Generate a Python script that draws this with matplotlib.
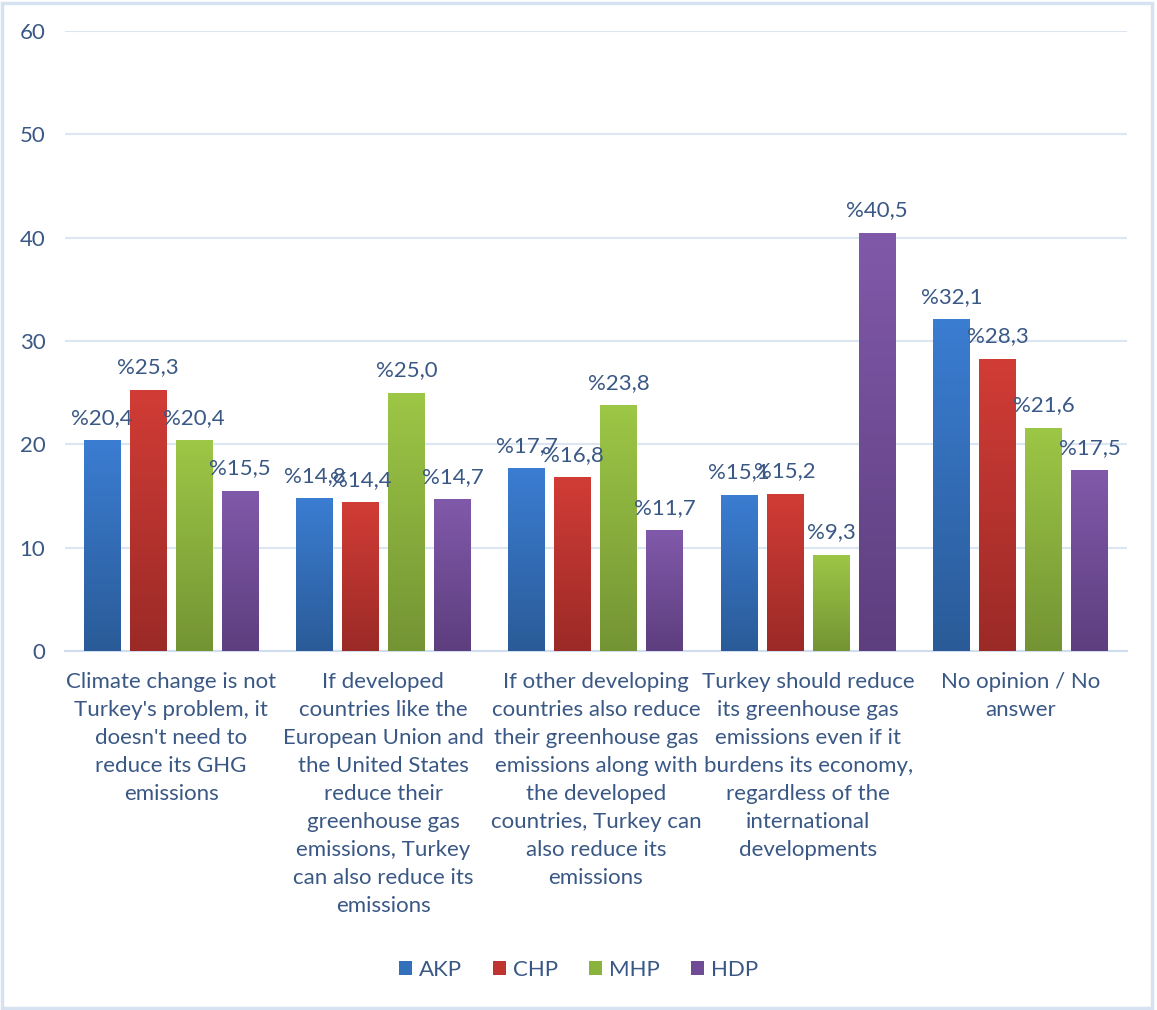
import numpy as np
import matplotlib.pyplot as plt
from matplotlib.colors import LinearSegmentedColormap
from matplotlib.patches import Rectangle, Patch

categories = [
    "Climate change is not\nTurkey's problem, it\ndoesn't need to\nreduce its GHG\nemissions",
    "If developed\ncountries like the\nEuropean Union and\nthe United States\nreduce their\ngreenhouse gas\nemissions, Turkey\ncan also reduce its\nemissions",
    "If other developing\ncountries also reduce\ntheir greenhouse gas\nemissions along with\nthe developed\ncountries, Turkey can\nalso reduce its\nemissions",
    "Turkey should reduce\nits greenhouse gas\nemissions even if it\nburdens its economy,\nregardless of the\ninternational\ndevelopments",
    "No opinion / No\nanswer",
]
parties = ["AKP", "CHP", "MHP", "HDP"]
akp = [20.4, 14.8, 17.7, 15.1, 32.1]
chp = [25.3, 14.4, 16.8, 15.2, 28.3]
mhp = [20.4, 25.0, 23.8, 9.3, 21.6]
hdp = [15.5, 14.7, 11.7, 40.5, 17.5]
series = [akp, chp, mhp, hdp]

# (bottom colour, top colour, legend colour)
grads = [("#2a5b98", "#3b7dd2", "#3370bb"),
         ("#9b2a27", "#d23c36", "#bf3431"),
         ("#749434", "#9dc746", "#8ab33e"),
         ("#5d3e7e", "#8159aa", "#6f4c95")]

txt = "#3a5885"
fs = 16
plt.rcParams['font.family'] = ['Lato', 'DejaVu Sans']

fig = plt.figure(figsize=(11.57, 10.10), dpi=100)
ax = fig.add_axes([0.056, 0.3554, 0.918, 0.6139])

x = np.arange(len(categories))
pitch = 0.2166
width = 0.174
grad = np.linspace(0, 1, 256).reshape(-1, 1)

for i, vals in enumerate(series):
    cmap = LinearSegmentedColormap.from_list(parties[i], [grads[i][0], grads[i][1]])
    pos = x + (i - 1.5) * pitch
    bars = ax.bar(pos, vals, width, color='none', edgecolor='none', zorder=3)
    for b, v in zip(bars, vals):
        im = ax.imshow(grad, cmap=cmap, origin='lower', aspect='auto',
                       extent=[b.get_x(), b.get_x() + width, 0, v], zorder=3)
        im.set_clip_path(b)
        ax.annotate(f"%{v:.1f}".replace('.', ','), (b.get_x() + width / 2, v),
                    xytext=(0, 9), textcoords='offset points',
                    ha='center', va='bottom', fontsize=fs, color=txt, zorder=4)

ax.set_xlim(-0.5, len(categories) - 0.5)
ax.set_ylim(0, 60)
ax.set_yticks(range(0, 61, 10))
ax.set_xticks(x)
ax.set_xticklabels(categories, fontsize=fs, color=txt, linespacing=1.5, va='top')
ax.tick_params(axis='both', length=0, labelsize=fs, labelcolor=txt)
ax.tick_params(axis='y', pad=14)
ax.tick_params(axis='x', pad=15)
ax.grid(axis='y', color='#dce6f2', linewidth=1.5, zorder=0)
for s in ['top', 'right', 'left']:
    ax.spines[s].set_visible(False)
ax.spines['bottom'].set_color('#d0ddee')
ax.spines['bottom'].set_linewidth(1.5)

handles = [Patch(facecolor=g[2], label=p) for g, p in zip(grads, parties)]
fig.legend(handles=handles, loc='center', bbox_to_anchor=(0.5, 0.04), ncol=4,
           frameon=False, fontsize=fs, labelcolor=txt, handlelength=0.6,
           handleheight=0.6, handletextpad=0.3, columnspacing=1.4)

fig.patches.append(Rectangle((0.002, 0.002), 0.994, 0.995, transform=fig.transFigure,
                             fill=False, edgecolor='#d6e2f1', linewidth=2.5))

fig.savefig("out.png", dpi=100)
